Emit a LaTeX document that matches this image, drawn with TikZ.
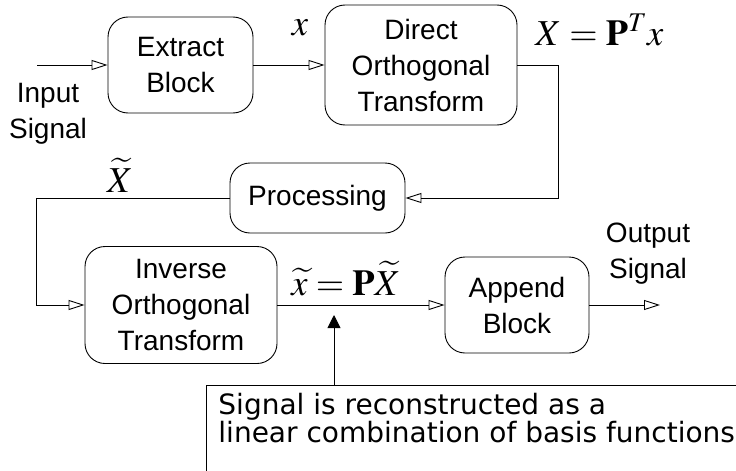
\documentclass[tikz,border=0pt]{standalone}
\usepackage{mathptmx}
\usepackage[no-math]{fontspec}
\setmainfont{Liberation Sans}
\newfontfamily\notefont{DejaVu Sans}
\DeclareMathAlphabet{\mathbfT}{OT1}{ptm}{b}{n}
\usetikzlibrary{arrows.meta}
\begin{document}
\begin{tikzpicture}[x=1pt,y=-1pt, line width=0.9pt,
  blk/.style={draw, rounded corners=20pt, align=center, font=\fontsize{28}{36}\selectfont, inner sep=0pt},
  oarr/.style={-{Triangle[open,length=16pt,width=10pt]}},
  lbl/.style={font=\fontsize{28}{36}\selectfont, align=center, inner sep=0pt},
  mth/.style={font=\fontsize{36.5}{40}\selectfont, inner sep=0pt}]
\useasboundingbox (0,0) rectangle (736,471);
\clip (0,0) rectangle (736,471);

% blocks
\node[blk, minimum width=145pt, minimum height=96pt] (ext) at (180.5,65) {Extract\\Block};
\node[blk, minimum width=192pt, minimum height=120pt] (dir) at (421,65) {Direct\\Orthogonal\\Transform};
\node[blk, minimum width=175pt, minimum height=70pt] (proc) at (317.5,198) {Processing};
\node[blk, minimum width=192pt, minimum height=117pt] (inv) at (181,305) {Inverse\\Orthogonal\\Transform};
\node[blk, minimum width=144pt, minimum height=96pt] (app) at (517,305) {Append\\Block};

% free ends
\coordinate (in) at (37,65);
\coordinate (out) at (660,305);

% connectors
\draw[oarr] (in) -- (ext.west);
\draw[oarr] (ext.east) -- (dir.west);
\draw[oarr] (dir.east) -- ++(41,0) |- (proc.east);
\draw[oarr] (proc.west) -- ++(-193,0) |- (inv.west);
\draw[oarr] (inv.east) -- (app.west);
\draw[oarr] (app.east) -- (out);

% labels
\node[lbl] (inlbl) at (48,114) {Input\\Signal};
\node[lbl] (outlbl) at (648,254) {Output\\Signal};
\node[mth, anchor=base] (xl) at (300,35) {$x$};
\node[mth, anchor=base west] (Xl) at (535,45) {$X=\mathbfT{P}^{T}x$};
\node[mth, anchor=base] (Xtl) at (120,192) {$\widetilde{X}$};
\node[mth, anchor=base west] (xtl) at (291,295) {$\widetilde{x}=\mathbfT{P}\widetilde{X}$};

% callout
\node[font=\notefont\fontsize{28}{28}\selectfont, align=left, anchor=north west, inner xsep=12pt, inner ysep=8pt] (note) at (206,385)
  {Signal is reconstructed as a\\linear combination of basis functions};
\draw (note.north west) rectangle ++(600,120);
\coordinate (tip) at (334,315);
\draw[-{Triangle[length=13pt,width=13pt]}] (note.north -| tip) -- (tip);
\end{tikzpicture}
\end{document}
